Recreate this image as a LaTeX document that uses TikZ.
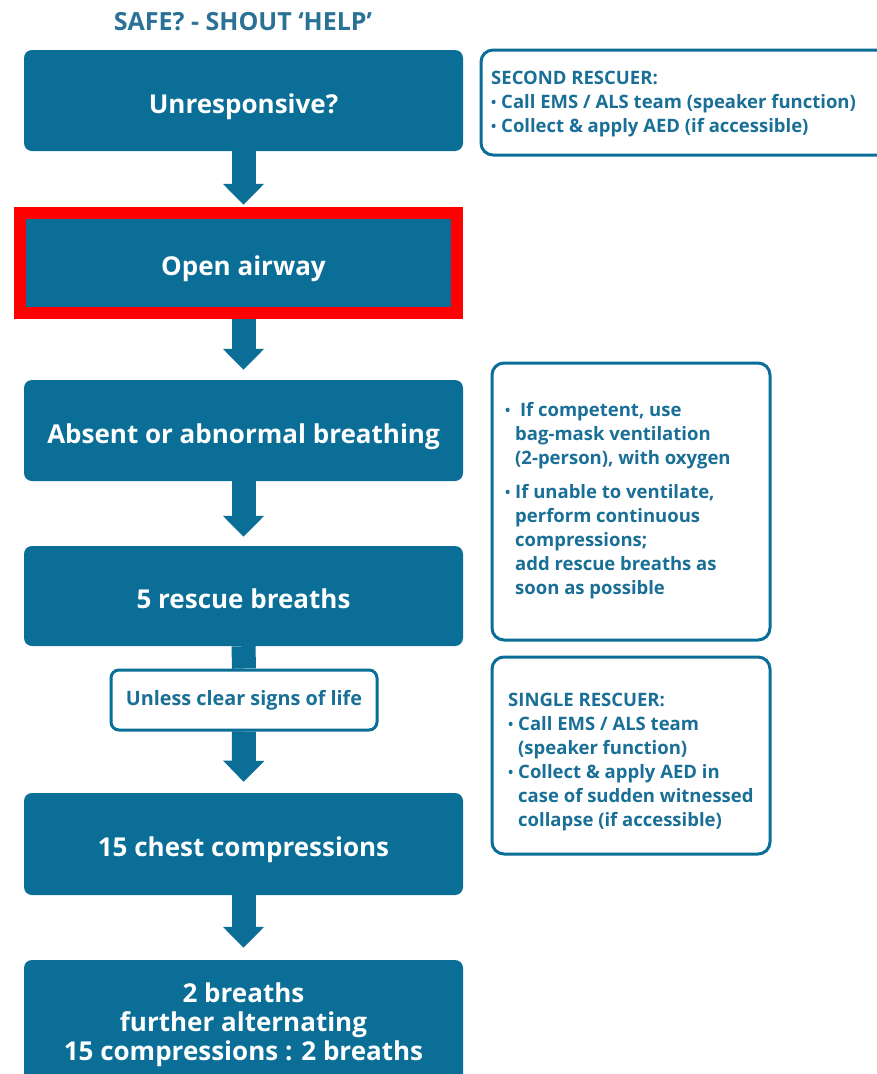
\documentclass[tikz,border=0pt]{standalone}
\usepackage{fontspec}
\setmainfont{Open Sans}
\usetikzlibrary{arrows.meta}
\definecolor{mainblue}{HTML}{0A6E97}
\definecolor{textblue}{HTML}{1A6F96}
\definecolor{titleblue}{HTML}{2A7196}
\definecolor{markred}{HTML}{FF0000}
\newcommand{\bul}{\raisebox{0.1ex}{\scalebox{0.75}{\textbullet}}}
\tikzset{
  mainbox/.style={fill=mainblue, rounded corners=8pt, text=white,
    font=\bfseries\fontsize{26}{29}\selectfont, align=center,
    minimum width=439pt, inner sep=0pt},
  oneline/.style={text height=25pt, text depth=0pt},
  sidebox/.style={draw=mainblue, line width=3pt, rounded corners=12pt, fill=white, inner sep=0pt},
  sidetext/.style={text=textblue, font=\bfseries\fontsize{18.5}{24}\selectfont,
    align=left, inner sep=0pt, anchor=west},
  flowarrow/.style={draw=mainblue, line width=24pt, -{Triangle[width=40pt,length=21pt]}},
  flowline/.style={draw=mainblue, line width=24pt}
}
\begin{document}
\begin{tikzpicture}[x=1pt,y=-1pt]
\useasboundingbox (0,0) rectangle (877,1074);
\fill[white] (0,0) rectangle (877,1074);

% title
\node[text=titleblue, font=\bfseries\fontsize{25}{28}\selectfont, inner sep=0pt] (title) at (243,22) {SAFE? - SHOUT ‘HELP’};

% main flow boxes
\node[mainbox, oneline, minimum height=101pt] (b1) at (243.5,100.5) {Unresponsive?};
\node[mainbox, oneline, rounded corners=0pt, minimum height=100pt] (b2) at (243.5,263) {Open airway};
\node[mainbox, oneline, minimum height=101pt] (b3) at (243.5,430.5) {Absent or abnormal breathing};
\node[mainbox, oneline, minimum height=100pt] (b4) at (243.5,596) {5 rescue breaths};
\node[draw=mainblue, line width=3pt, fill=white, rounded corners=8pt, minimum width=266pt,
  minimum height=60pt, inner sep=0pt, text=textblue, font=\bfseries\fontsize{19.8}{22}\selectfont]
  (unless) at (244,700) {Unless clear signs of life};
\node[mainbox, oneline, minimum height=102pt] (b5) at (243.5,844) {15 chest compressions};
\node[mainbox, minimum height=130pt] (b6) at (243.5,1025) {2 breaths\\further alternating\\15 compressions : 2 breaths};

% connectors
\draw[flowarrow, shorten >=8pt] (b1.south) -- (b2.north);
\draw[flowarrow, shorten >=10pt] (b2.south) -- (b3.north);
\draw[flowarrow, shorten >=9pt] (b3.south) -- (b4.north);
\draw[flowline] (b4.south) -- (unless.north);
\draw[flowarrow, shorten >=11pt] (unless.south) -- (b5.north);
\draw[flowarrow, shorten >=12pt] (b5.south) -- (b6.north);

% red highlight frame
\draw[markred, line width=12pt] (20,213) rectangle (457,313);

% side boxes
\node[sidebox, minimum width=424pt, minimum height=105pt] (sec) at (693,102.5) {};
\node[sidetext] (sect) at (491,104) {SECOND RESCUER:\\
\bul\ Call EMS / ALS team (speaker function)\\
\bul\ Collect \& apply AED (if accessible)};

\node[sidebox, minimum width=278pt, minimum height=277pt] (info) at (631,501.5) {};
\node[sidetext] (infot) at (505,501) {\bul\ \ If competent, use\\
\phantom{\bul\ }bag-mask ventilation\\
\phantom{\bul\ }(2-person), with oxygen\\[10pt]
\bul\ If unable to ventilate,\\
\phantom{\bul\ }perform continuous\\
\phantom{\bul\ }compressions;\\
\phantom{\bul\ }add rescue breaths as\\
\phantom{\bul\ }soon as possible};

\node[sidebox, minimum width=278pt, minimum height=197pt] (single) at (631,755.5) {};
\node[sidetext] (singlet) at (508,762) {SINGLE RESCUER:\\
\bul\ Call EMS / ALS team\\
\phantom{\bul\ }(speaker function)\\
\bul\ Collect \& apply AED in\\
\phantom{\bul\ }case of sudden witnessed\\
\phantom{\bul\ }collapse (if accessible)};
\end{tikzpicture}
\end{document}
